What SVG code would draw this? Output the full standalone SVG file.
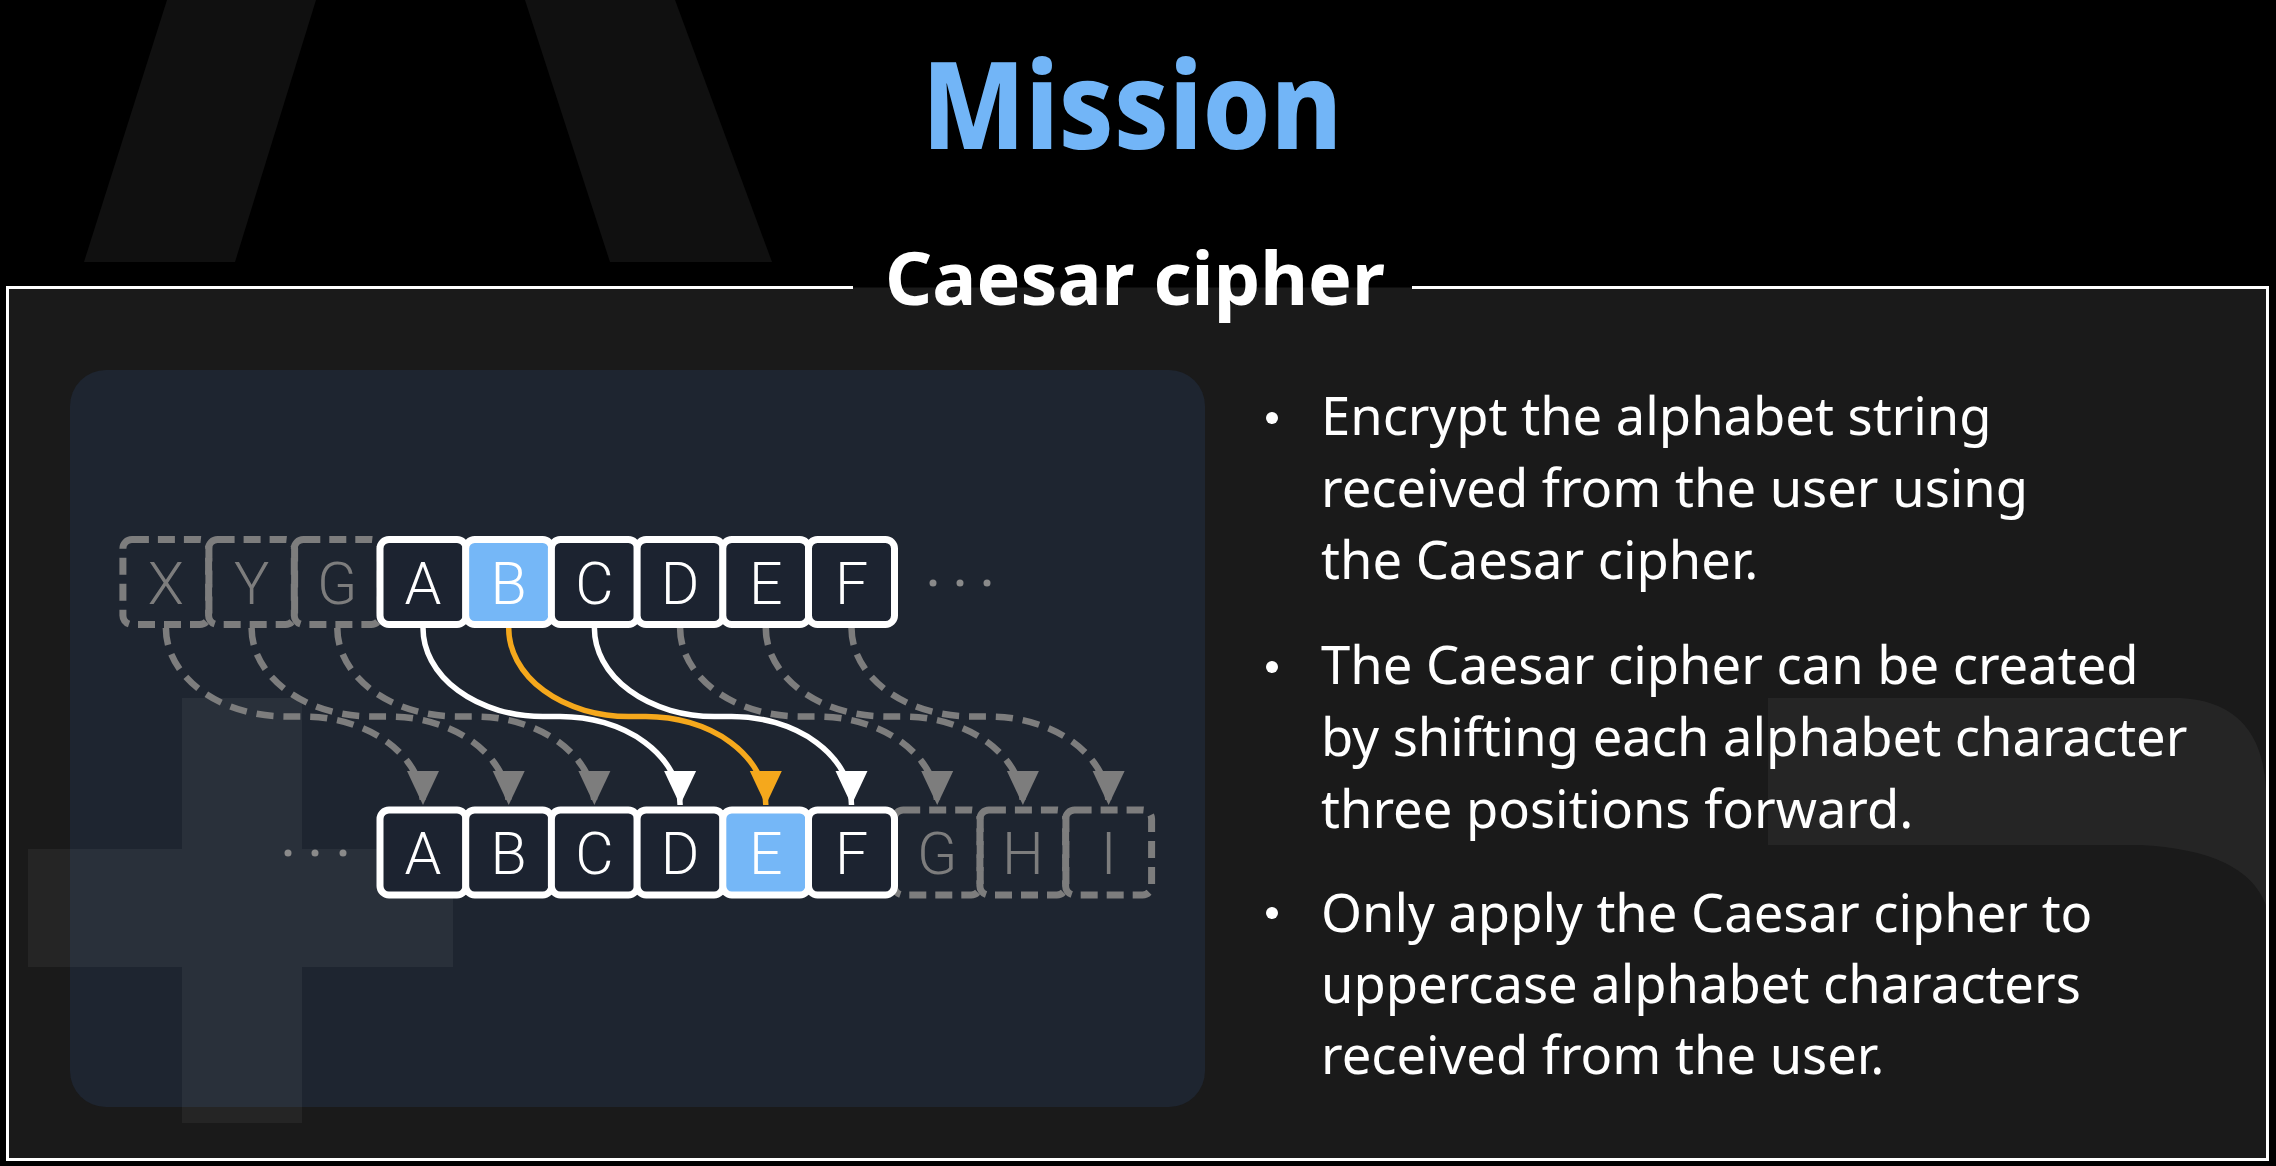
<svg xmlns="http://www.w3.org/2000/svg" width="2276" height="1166" viewBox="0 0 2276 1166">
<style>
.cell{fill:#1c2330;stroke:#ffffff;stroke-width:7}
.cell.hl{fill:#75b7f7}
.ghost{fill:none;stroke:#7d7d7d;stroke-width:7;stroke-dasharray:17 9}
.lt{font-family:Roboto,"Liberation Sans",sans-serif;font-weight:350;font-size:59px;text-anchor:middle;fill:#ffffff}
.lt.g{fill:#7d7d7d}
.body{font-family:"Noto Sans","Open Sans","Liberation Sans",sans-serif;font-size:52.5px;fill:#ffffff}
.arw{fill:none;stroke-width:5.5}
.arw.w{stroke:#ffffff}
.arw.o{stroke:#f5a81c}
.arw.g{stroke:#7d7d7d;stroke-width:6.5;stroke-dasharray:17 10}
.dot{fill:#8a8a8a}
.deco{fill:#ffffff;fill-opacity:0.05}
</style>
<defs>
<marker id="mw" markerUnits="userSpaceOnUse" viewBox="0 0 34 34" markerWidth="34" markerHeight="34" refX="34" refY="17" orient="auto"><path d="M0,1 L34,17 L0,33 Z" fill="#ffffff"/></marker>
<marker id="mo" markerUnits="userSpaceOnUse" viewBox="0 0 34 34" markerWidth="34" markerHeight="34" refX="34" refY="17" orient="auto"><path d="M0,1 L34,17 L0,33 Z" fill="#f5a81c"/></marker>
<marker id="mg" markerUnits="userSpaceOnUse" viewBox="0 0 34 34" markerWidth="34" markerHeight="34" refX="34" refY="17" orient="auto"><path d="M0,1 L34,17 L0,33 Z" fill="#7d7d7d"/></marker>
</defs>
<rect x="0" y="0" width="2276" height="1166" fill="#000000"/>
<g id="bg-decor">
<polygon points="167,0 316,0 235,262 84,262" fill="#101010"/>
<polygon points="525,0 675,0 772,262 610,262" fill="#101010"/>
</g>
<g id="title">
<text x="1132" y="149" font-family="'Noto Sans','Open Sans',sans-serif" font-weight="800" font-size="122" fill="#72b5f7" text-anchor="middle" textLength="420" lengthAdjust="spacingAndGlyphs">Mission</text>
</g>
<g id="panel">
<rect x="7.5" y="287.5" width="2260" height="872" fill="#1a1a1a"/>
<path d="M853,287.5 H7.5 V1159.5 H2267.5 V287.5 H1412" fill="none" stroke="#ffffff" stroke-width="3"/>
<text x="1135" y="305" font-family="'Noto Sans','Open Sans',sans-serif" font-weight="700" font-size="73" fill="#ffffff" text-anchor="middle" textLength="500" lengthAdjust="spacingAndGlyphs">Caesar cipher</text>
<rect x="70" y="370" width="1135" height="737" rx="36" fill="#1e2530"/>
<rect class="deco" x="182" y="698" width="120" height="425"/>
<rect class="deco" x="28" y="849" width="154" height="118"/>
<rect class="deco" x="302" y="849" width="151" height="118"/>
<path class="deco" d="M1768,698 H2180 Q2262,702 2266,790 V905 Q2245,850 2140,845 H1768 Z"/>
</g>
<g id="top-ghost-X"><rect class="ghost" x="122.9" y="539.5" width="86" height="85" rx="9"/><text class="lt g" x="165.9" y="604">X</text></g>
<g id="top-ghost-Y"><rect class="ghost" x="208.6" y="539.5" width="86" height="85" rx="9"/><text class="lt g" x="251.6" y="604">Y</text></g>
<g id="top-ghost-G"><rect class="ghost" x="294.3" y="539.5" width="86" height="85" rx="9"/><text class="lt g" x="337.3" y="604">G</text></g>
<g id="top-A"><rect class="cell" x="380" y="539.5" width="86" height="85" rx="9"/><text class="lt" x="423" y="604">A</text></g>
<g id="top-B"><rect class="cell hl" x="465.7" y="539.5" width="86" height="85" rx="9"/><text class="lt" x="508.7" y="604">B</text></g>
<g id="top-C"><rect class="cell" x="551.4" y="539.5" width="86" height="85" rx="9"/><text class="lt" x="594.4" y="604">C</text></g>
<g id="top-D"><rect class="cell" x="637.1" y="539.5" width="86" height="85" rx="9"/><text class="lt" x="680.1" y="604">D</text></g>
<g id="top-E"><rect class="cell" x="722.8" y="539.5" width="86" height="85" rx="9"/><text class="lt" x="765.8" y="604">E</text></g>
<g id="top-F"><rect class="cell" x="808.5" y="539.5" width="86" height="85" rx="9"/><text class="lt" x="851.5" y="604">F</text></g>
<g id="top-dots"><circle class="dot" cx="933" cy="583" r="3.5"/><circle class="dot" cx="960" cy="583" r="3.5"/><circle class="dot" cx="987" cy="583" r="3.5"/></g>
<g id="bottom-dots"><circle class="dot" cx="288" cy="853" r="3.5"/><circle class="dot" cx="315" cy="853" r="3.5"/><circle class="dot" cx="343" cy="853" r="3.5"/></g>
<g id="bot-ghost-G"><rect class="ghost" x="894.2" y="810" width="86" height="85" rx="9"/><text class="lt g" x="937.2" y="873.5">G</text></g>
<g id="bot-ghost-H"><rect class="ghost" x="979.9" y="810" width="86" height="85" rx="9"/><text class="lt g" x="1022.9" y="873.5">H</text></g>
<g id="bot-ghost-I"><rect class="ghost" x="1065.6" y="810" width="86" height="85" rx="9"/><text class="lt g" x="1108.6" y="873.5">I</text></g>
<g id="bot-A"><rect class="cell" x="380" y="810" width="86" height="85" rx="9"/><text class="lt" x="423" y="873.5">A</text></g>
<g id="bot-B"><rect class="cell" x="465.7" y="810" width="86" height="85" rx="9"/><text class="lt" x="508.7" y="873.5">B</text></g>
<g id="bot-C"><rect class="cell" x="551.4" y="810" width="86" height="85" rx="9"/><text class="lt" x="594.4" y="873.5">C</text></g>
<g id="bot-D"><rect class="cell" x="637.1" y="810" width="86" height="85" rx="9"/><text class="lt" x="680.1" y="873.5">D</text></g>
<g id="bot-E"><rect class="cell hl" x="722.8" y="810" width="86" height="85" rx="9"/><text class="lt" x="765.8" y="873.5">E</text></g>
<g id="bot-F"><rect class="cell" x="808.5" y="810" width="86" height="85" rx="9"/><text class="lt" x="851.5" y="873.5">F</text></g>
<g id="connectors">
<path class="arw g" marker-end="url(#mg)" d="M165.9,628 A120,88.5 0 0 0 285.9,716.5 H303 A120,88.5 0 0 1 423,805"/>
<path class="arw g" marker-end="url(#mg)" d="M251.6,628 A120,88.5 0 0 0 371.6,716.5 H388.7 A120,88.5 0 0 1 508.7,805"/>
<path class="arw g" marker-end="url(#mg)" d="M337.3,628 A120,88.5 0 0 0 457.3,716.5 H474.4 A120,88.5 0 0 1 594.4,805"/>
<path class="arw g" marker-end="url(#mg)" d="M680.1,628 A120,88.5 0 0 0 800.1,716.5 H817.2 A120,88.5 0 0 1 937.2,805"/>
<path class="arw g" marker-end="url(#mg)" d="M765.8,628 A120,88.5 0 0 0 885.8,716.5 H902.9 A120,88.5 0 0 1 1022.9,805"/>
<path class="arw g" marker-end="url(#mg)" d="M851.5,628 A120,88.5 0 0 0 971.5,716.5 H988.6 A120,88.5 0 0 1 1108.6,805"/>
<path class="arw w" marker-end="url(#mw)" d="M423,628 A120,88.5 0 0 0 543,716.5 H560.1 A120,88.5 0 0 1 680.1,805"/>
<path class="arw w" marker-end="url(#mw)" d="M594.4,628 A120,88.5 0 0 0 714.4,716.5 H731.5 A120,88.5 0 0 1 851.5,805"/>
<path class="arw o" marker-end="url(#mo)" d="M508.7,628 A120,88.5 0 0 0 628.7,716.5 H645.8 A120,88.5 0 0 1 765.8,805"/>
</g>
<g id="bullets">
<circle cx="1272" cy="418" r="6" fill="#ffffff"/>
<text class="body" x="1321" y="435">Encrypt the alphabet string</text>
<text class="body" x="1321" y="507">received from the user using</text>
<text class="body" x="1321" y="579">the Caesar cipher.</text>
<circle cx="1272" cy="667" r="6" fill="#ffffff"/>
<text class="body" x="1321" y="684">The Caesar cipher can be created</text>
<text class="body" x="1321" y="756">by shifting each alphabet character</text>
<text class="body" x="1321" y="828">three positions forward.</text>
<circle cx="1272" cy="913" r="6" fill="#ffffff"/>
<text class="body" x="1321" y="932">Only apply the Caesar cipher to</text>
<text class="body" x="1321" y="1003">uppercase alphabet characters</text>
<text class="body" x="1321" y="1074">received from the user.</text>
</g>
</svg>
